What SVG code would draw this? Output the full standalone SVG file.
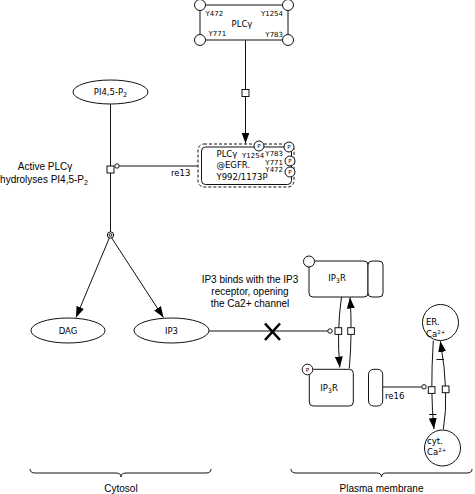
<svg xmlns="http://www.w3.org/2000/svg" width="475" height="494" viewBox="0 0 475 494">
<style>
.ln{fill:none;stroke:#111;stroke-width:1}
.nd{fill:#fff;stroke:#111;stroke-width:1}
.sq{fill:#fff;stroke:#111;stroke-width:1}
.t{font-family:"DejaVu Sans",sans-serif;font-size:8.5px;fill:#000}
.s{font-family:"DejaVu Sans",sans-serif;font-size:7px;fill:#000}
.p{font-family:"DejaVu Sans",sans-serif;font-size:5.5px;fill:#000;text-anchor:middle}
.a{font-family:"Liberation Sans",Arial,sans-serif;font-size:10px;fill:#000}
.m{text-anchor:middle}
</style>
<defs>
<marker id="arr" markerUnits="userSpaceOnUse" markerWidth="11" markerHeight="8" viewBox="0 0 11 8" refX="11" refY="4" orient="auto"><path d="M0,0 L11,4 L0,8 z" fill="#000"/></marker>
</defs>

<g id="connectors">
  <!-- PLCg -> PLCg@EGFR -->
  <line class="ln" x1="245.5" y1="40" x2="245.5" y2="89.5"/>
  <line class="ln" x1="245.5" y1="96.5" x2="245.5" y2="143.5" marker-end="url(#arr)"/>
  <rect class="sq" x="242" y="89.5" width="7" height="7"/>
  <!-- re13 -->
  <line class="ln" x1="110.5" y1="104" x2="110.5" y2="232"/>
  <rect class="sq" x="107" y="166" width="7" height="7"/>
  <line class="ln" x1="119.2" y1="166" x2="198" y2="166"/>
  <circle class="nd" cx="117" cy="166" r="2.2"/>
  <circle class="nd" cx="110.5" cy="235" r="3.2"/>
  <circle class="nd" cx="110.5" cy="235" r="1.4"/>
  <line class="ln" x1="109.3" y1="238" x2="76" y2="317.5" marker-end="url(#arr)"/>
  <line class="ln" x1="111.7" y1="238" x2="163.5" y2="317.5" marker-end="url(#arr)"/>
  <text class="t" x="171" y="176">re13</text>
  <!-- IP3 -> IP3R -->
  <line class="ln" x1="209" y1="331" x2="327.8" y2="331"/>
  <circle class="nd" cx="330" cy="331" r="2.2"/>
  <path d="M265,323.5 L280,340 M280,323.5 L265,340" fill="none" stroke="#000" stroke-width="2.6"/>
  <path class="ln" d="M341.5,297 Q336.5,331 339.8,367.5" marker-end="url(#arr)"/>
  <path class="ln" d="M349.3,368.5 Q352.5,331 350,297.5" marker-end="url(#arr)"/>
  <rect class="sq" x="335" y="327.7" width="6.7" height="6.7"/>
  <rect class="sq" x="347.7" y="327.7" width="6.7" height="6.7"/>
  <!-- re16 -->
  <line class="ln" x1="383" y1="387" x2="421.8" y2="387"/>
  <circle class="nd" cx="424" cy="386.8" r="2.2"/>
  <path class="ln" d="M433.3,340.5 Q430,394 434,429" marker-end="url(#arr)"/>
  <path class="ln" d="M443.3,429.5 Q449.5,393.5 440.3,341" marker-end="url(#arr)"/>
  <line class="ln" x1="429" y1="414.5" x2="436.5" y2="414.5"/>
  <line class="ln" x1="436.5" y1="359.5" x2="444" y2="359.5"/>
  <rect class="sq" x="428.3" y="386.7" width="6.7" height="6.7"/>
  <rect class="sq" x="442.3" y="386" width="6.7" height="6.7"/>
  <text class="t" x="385" y="399">re16</text>
</g>

<g id="n_plcg">
  <rect class="nd" x="200" y="5" width="88" height="35" rx="3"/>
  <circle class="nd" cx="200" cy="5" r="5.5"/>
  <circle class="nd" cx="288" cy="5" r="5.5"/>
  <circle class="nd" cx="200" cy="40" r="5.5"/>
  <circle class="nd" cx="288" cy="40" r="5.5"/>
  <text class="s" x="205.5" y="16">Y472</text>
  <text class="s" x="283" y="16" text-anchor="end">Y1254</text>
  <text class="s" x="208.5" y="36">Y771</text>
  <text class="s" x="283" y="37" text-anchor="end">Y783</text>
  <text class="t m" x="242" y="27">PLCγ</text>
</g>

<g id="n_plcg_egfr">
  <rect x="198" y="144" width="96" height="43" rx="6" fill="#fff" stroke="#111" stroke-width="1" stroke-dasharray="3,2"/>
  <rect class="nd" x="201.5" y="147" width="90" height="37.5" rx="4"/>
  <text class="t" x="216.5" y="157">PLCγ</text>
  <text class="t" x="216.5" y="168">@EGFR.</text>
  <text class="t" x="216.5" y="180">Y992/1173P</text>
  <text class="s" x="242" y="158">Y1254</text>
  <text class="s" x="283" y="156" text-anchor="end">Y783</text>
  <text class="s" x="283" y="165" text-anchor="end">Y771</text>
  <text class="s" x="283" y="172" text-anchor="end">Y472</text>
  <circle class="nd" cx="259" cy="146" r="5"/><text class="p" x="259" y="148">P</text>
  <circle class="nd" cx="289" cy="147" r="5"/><text class="p" x="289" y="149">P</text>
  <circle class="nd" cx="290" cy="161" r="5"/><text class="p" x="290" y="163">P</text>
  <circle class="nd" cx="290" cy="172" r="5"/><text class="p" x="290" y="174">P</text>
</g>

<g id="n_pip2">
  <ellipse class="nd" cx="110.5" cy="92" rx="37.5" ry="12"/>
  <text class="t m" x="110.5" y="95">PI4,5-P<tspan font-size="6.5" dy="2">2</tspan></text>
</g>

<g id="n_dag">
  <ellipse class="nd" cx="68" cy="330.5" rx="37" ry="12.5"/>
  <text class="t m" x="68" y="333.5">DAG</text>
</g>

<g id="n_ip3">
  <ellipse class="nd" cx="171.5" cy="330.5" rx="37.5" ry="12.5"/>
  <text class="t m" x="171.5" y="333.5">IP3</text>
</g>

<g id="n_ip3r_top">
  <rect class="nd" x="309" y="261" width="59" height="36" rx="4"/>
  <rect class="nd" x="368" y="261" width="15" height="36" rx="4"/>
  <circle class="nd" cx="309" cy="261.5" r="5.5"/>
  <text class="t m" x="337" y="281">IP<tspan font-size="6.5" dy="2">3</tspan><tspan dy="-2">R</tspan></text>
</g>

<g id="n_ip3r_bottom">
  <rect class="nd" x="309.3" y="369.3" width="44" height="36.7" rx="4"/>
  <circle class="nd" cx="307.5" cy="369.5" r="5.3"/><text class="p" x="307.5" y="371.5">P</text>
  <text class="t m" x="329" y="391">IP<tspan font-size="6.5" dy="2">3</tspan><tspan dy="-2">R</tspan></text>
</g>

<g id="n_channel">
  <rect class="nd" x="368.5" y="369.3" width="14.2" height="36.7" rx="5"/>
</g>

<g id="n_er_ca">
  <circle class="nd" cx="440.5" cy="322.5" r="18"/>
  <text class="t" x="426" y="325" font-size="8">ER.</text>
  <text class="t" x="426" y="337" font-size="8">Ca<tspan font-size="5.5" dy="-3.5">2+</tspan></text>
</g>

<g id="n_cyt_ca">
  <circle class="nd" cx="442.5" cy="448" r="18"/>
  <text class="t" x="427" y="444" font-size="8">cyt.</text>
  <text class="t" x="427" y="455" font-size="8">Ca<tspan font-size="5.5" dy="-3.5">2+</tspan></text>
</g>

<g id="labels">
  <text class="a m" x="45" y="169.5">Active PLCγ</text>
  <text class="a m" x="44" y="183">hydrolyses PI4,5-P<tspan font-size="7" dy="2">2</tspan></text>
  <text class="a m" x="250" y="283">IP3 binds with the IP3</text>
  <text class="a m" x="250" y="295">receptor, opening</text>
  <text class="a m" x="250" y="307">the Ca2+ channel</text>
  <path class="ln" d="M30,469 Q30,473 35,473 L116,473 Q121,473 121,477 Q121,473 126,473 L206,473 Q211,473 211,469"/>
  <path class="ln" d="M291,469 Q291,473 296,473 L376.5,473 Q381.5,473 381.5,477 Q381.5,473 386.5,473 L467,473 Q472,473 472,469"/>
  <text class="a m" x="121" y="492">Cytosol</text>
  <text class="a m" x="381.5" y="492">Plasma membrane</text>
</g>
</svg>
